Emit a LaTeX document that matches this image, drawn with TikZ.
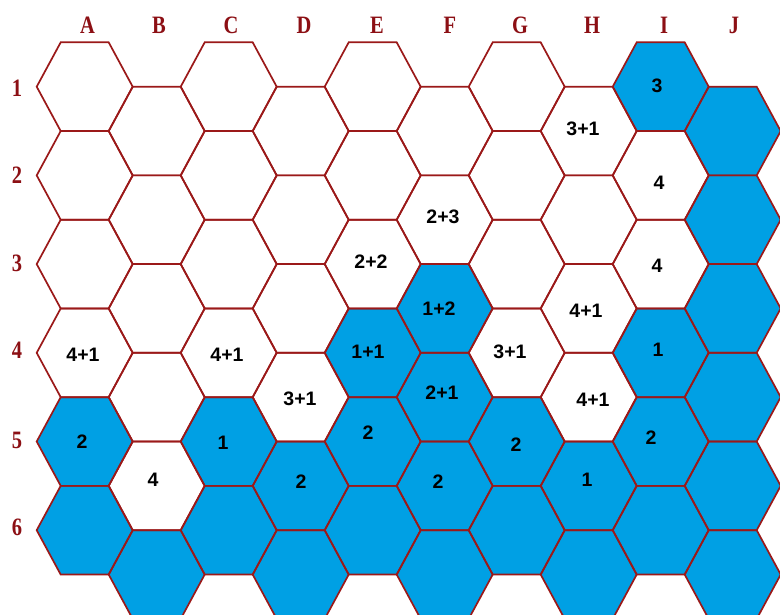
\documentclass[tikz,border=0pt]{standalone}
\usepackage{fontspec}
\newfontfamily\cellfont{Liberation Sans}
\newfontfamily\axisfont{Liberation Serif}[FakeStretch=0.82]
\definecolor{hexred}{RGB}{155,25,25}
\definecolor{labred}{RGB}{140,15,20}
\definecolor{hexblue}{RGB}{0,160,228}
\tikzset{
  hexline/.style={draw=hexred, line width=1.7pt, line join=miter},
  hexfill/.style={fill=hexblue},
  cellnum/.style={font=\cellfont\bfseries\fontsize{19.5}{19.5}\selectfont, text=black, inner sep=0pt, anchor=center},
  axislab/.style={font=\axisfont\bfseries\fontsize{25}{25}\selectfont, text=labred, inner sep=0pt, anchor=center},
}
\newcommand\hexcell[3]{%
  \pgfmathsetmacro\hx{84.7+72*#1}%
  \pgfmathsetmacro\hy{86.7+88.7*(#2-1)+mod(#1,2)*44.35}%
  \path[#3] (\hx+48,\hy) -- (\hx+24,\hy+44.35) -- (\hx-24,\hy+44.35) -- (\hx-48,\hy)
     -- (\hx-24,\hy-44.35) -- (\hx+24,\hy-44.35) -- cycle;%
}
\begin{document}
\begin{tikzpicture}[x=1pt,y=-1pt]
\useasboundingbox (0,0) rectangle (780,615);
\fill[white] (0,0) rectangle (780,615);
\clip (0,0) rectangle (780,615);
% blue cells
\foreach \c/\r in {8/1,9/1,9/2,9/3,5/3,4/4,5/4,8/4,9/4,
  0/5,2/5,3/5,4/5,5/5,6/5,7/5,8/5,9/5,
  0/6,1/6,2/6,3/6,4/6,5/6,6/6,7/6,8/6,9/6}{\hexcell{\c}{\r}{hexfill}}
% outlines
\foreach \c in {0,...,9}{\foreach \r in {1,...,6}{\hexcell{\c}{\r}{hexline}}}
% column headers
\foreach \l/\x in {A/87.5,B/159,C/231,D/304,E/377,F/450,G/520,H/592,I/664,J/734}
  \node[axislab] (h\l) at (\x,25) {\l};
% row labels
\foreach \n/\y in {1/88,2/175,3/263,4/350,5/440,6/527}
  \node[axislab] (r\n) at (17,\y) {\n};
% cell numbers
\node[cellnum] (I1) at (657,86) {3};
\node[cellnum] (H1) at (583,129) {3+1};
\node[cellnum] (I2) at (659,183) {4};
\node[cellnum] (F2) at (443,217) {2+3};
\node[cellnum] (E3) at (371,262) {2+2};
\node[cellnum] (I3) at (657,266) {4};
\node[cellnum] (F3) at (439,309) {1+2};
\node[cellnum] (H3) at (586,311) {4+1};
\node[cellnum] (A4) at (83,355) {4+1};
\node[cellnum] (C4) at (227,355) {4+1};
\node[cellnum] (E4) at (368,352) {1+1};
\node[cellnum] (G4) at (510,352) {3+1};
\node[cellnum] (I4) at (658,350) {1};
\node[cellnum] (D4) at (300,399) {3+1};
\node[cellnum] (F4) at (442,393) {2+1};
\node[cellnum] (H4) at (593,400) {4+1};
\node[cellnum] (A5) at (82,442) {2};
\node[cellnum] (C5) at (223,443) {1};
\node[cellnum] (E5) at (368,433) {2};
\node[cellnum] (G5) at (516,445) {2};
\node[cellnum] (I5) at (651,438) {2};
\node[cellnum] (B5) at (153,480) {4};
\node[cellnum] (D5) at (301,482) {2};
\node[cellnum] (F5) at (438,482) {2};
\node[cellnum] (H5) at (587,480) {1};
\end{tikzpicture}
\end{document}
